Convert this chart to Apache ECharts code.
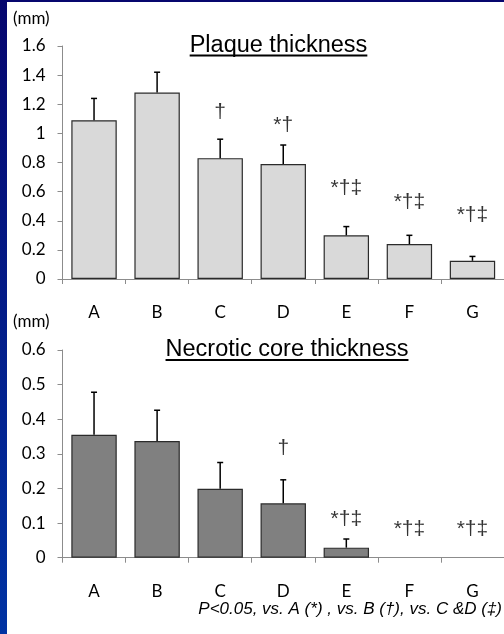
<!DOCTYPE html>
<html>
<head>
<meta charset="utf-8">
<script src="https://cdn.jsdelivr.net/npm/echarts/dist/echarts.min.js"></script>
<style>
html,body{margin:0;padding:0;background:#fff;}
#main{width:504px;height:634px;}
</style>
</head>
<body>
<div id="main"></div>
<script>
// ---- data ----
const categories = ['A', 'B', 'C', 'D', 'E', 'F', 'G'];
const plaqueMean = [1.09, 1.28, 0.83, 0.79, 0.30, 0.24, 0.125];
const plaqueErr = [0.15, 0.14, 0.13, 0.13, 0.06, 0.06, 0.03];
const plaqueMarks = ['', '', '†', '*†', '*†‡', '*†‡', '*†‡'];
const plaqueMarkY = [null, null, 1.147, 1.058, 0.625, 0.529, 0.44];
const necroticMean = [0.355, 0.337, 0.199, 0.157, 0.029, 0, 0];
const necroticErr = [0.123, 0.089, 0.076, 0.068, 0.025, 0, 0];
const necroticMarks = ['', '', '', '†', '*†‡', '*†‡', '*†‡'];
const necroticMarkY = [null, null, null, 0.317, 0.112, 0.083, 0.083];
const plaqueTicks = {min: 0, max: 1.6, interval: 0.2};
const necroticTicks = {min: 0, max: 0.6, interval: 0.1};
const plaqueTitle = 'Plaque thickness';
const necroticTitle = 'Necrotic core thickness';
const unitLabel = '(mm)';
const footnote = 'P<0.05, vs. A (*) , vs. B (†), vs. C &D (‡)';

// ---- helpers ----
const chart = echarts.init(document.getElementById('main'), null, {renderer: 'canvas'});
const mctx = document.createElement('canvas').getContext('2d');
function textWidth(t, font) { mctx.font = font; return mctx.measureText(t).width; }

const titleFont = '23.5px "Liberation Sans", Arial, sans-serif';
const axisGray = '#8c8c8c';

function errRender(params, api) {
  const x = api.value(0), m = api.value(1), e = api.value(2);
  if (!e) return null;
  const p0 = api.coord([x, m]);
  const p1 = api.coord([x, m + e]);
  const style = {stroke: '#000', lineWidth: 1.5};
  return {
    type: 'group',
    children: [
      {type: 'line', shape: {x1: p0[0], y1: p0[1], x2: p1[0], y2: p1[1]}, style: style},
      {type: 'line', shape: {x1: p1[0] - 3, y1: p1[1], x2: p1[0] + 3, y2: p1[1]}, style: style}
    ]
  };
}

function xAxisCfg(gi) {
  return {
    type: 'category', gridIndex: gi, data: categories, boundaryGap: true,
    axisLine: {show: true, lineStyle: {color: axisGray, width: 1}},
    axisTick: {show: true, length: 5, alignWithLabel: false, lineStyle: {color: axisGray}},
    axisLabel: {margin: 25, fontSize: 17, fontFamily: 'Lato, sans-serif', color: '#000'},
    splitLine: {show: false}
  };
}
function yAxisCfg(gi, t) {
  return {
    type: 'value', gridIndex: gi, min: t.min, max: t.max, interval: t.interval,
    axisLine: {show: true, lineStyle: {color: axisGray, width: 1}},
    axisTick: {show: true, length: 5, lineStyle: {color: axisGray}},
    axisLabel: {margin: 17, fontSize: 17, fontFamily: 'Lato, sans-serif', color: '#000',
      formatter: v => String(Math.round(v * 10) / 10)},
    splitLine: {show: false}
  };
}
function marksSeries(gi, marks, ys) {
  return {
    type: 'scatter', xAxisIndex: gi, yAxisIndex: gi,
    symbolSize: 1, itemStyle: {color: 'rgba(0,0,0,0)'},
    silent: true,
    data: categories.map((c, i) => ys[i] == null ? [i, '-'] : [i, ys[i]]),
    label: {
      show: true, position: 'inside',
      formatter: p => marks[p.dataIndex],
      fontSize: 21, fontFamily: '"Liberation Sans", Arial, sans-serif', color: '#000'
    }
  };
}
function barData(vals) {
  return vals.map(v => v === 0 ? {value: v, itemStyle: {borderWidth: 0}} : v);
}

function titleGraphic(text, cx, cy, underY) {
  const w = textWidth(text, titleFont);
  return [
    {type: 'text', style: {text: text, x: cx, y: cy, font: titleFont, fill: '#000',
      textAlign: 'center', textVerticalAlign: 'middle'}},
    {type: 'rect', shape: {x: cx - w / 2, y: underY, width: w, height: 2}, style: {fill: '#000'}}
  ];
}

const option = {
  backgroundColor: '#fff',
  animation: false,
  grid: [
    {left: 62.5, right: -2, top: 46, bottom: 355, containLabel: false},
    {left: 62.5, right: -2, top: 350, bottom: 76.3, containLabel: false}
  ],
  xAxis: [xAxisCfg(0), xAxisCfg(1)],
  yAxis: [yAxisCfg(0, plaqueTicks), yAxisCfg(1, necroticTicks)],
  series: [
    {type: 'bar', xAxisIndex: 0, yAxisIndex: 0, data: barData(plaqueMean), barWidth: '72%',
      itemStyle: {color: '#d9d9d9', borderColor: '#2b2b2b', borderWidth: 1.2}},
    {type: 'custom', xAxisIndex: 0, yAxisIndex: 0, renderItem: errRender, z: 5,
      data: categories.map((c, i) => [i, plaqueMean[i], plaqueErr[i]])},
    marksSeries(0, plaqueMarks, plaqueMarkY),
    {type: 'bar', xAxisIndex: 1, yAxisIndex: 1, data: barData(necroticMean), barWidth: '72%',
      itemStyle: {color: '#808080', borderColor: '#2b2b2b', borderWidth: 1.2}},
    {type: 'custom', xAxisIndex: 1, yAxisIndex: 1, renderItem: errRender, z: 5,
      data: categories.map((c, i) => [i, necroticMean[i], necroticErr[i]])},
    marksSeries(1, necroticMarks, necroticMarkY)
  ],
  graphic: [
    {type: 'rect', shape: {x: 0, y: 0, width: 7, height: 634},
      style: {fill: new echarts.graphic.LinearGradient(0, 0, 0, 1, [
        {offset: 0, color: '#06066e'}, {offset: 1, color: '#0033a3'}])}},
    {type: 'rect', shape: {x: 0, y: 0, width: 504, height: 2}, style: {fill: '#06066e'}},
    {type: 'text', style: {text: unitLabel, x: 13, y: 19, font: '17px Lato, sans-serif', fill: '#000',
      textAlign: 'left', textVerticalAlign: 'middle'}},
    {type: 'text', style: {text: unitLabel, x: 13, y: 322, font: '17px Lato, sans-serif', fill: '#000',
      textAlign: 'left', textVerticalAlign: 'middle'}},
    ...titleGraphic(plaqueTitle, 278.5, 45.3, 54.5),
    ...titleGraphic(necroticTitle, 287, 349.2, 359),
    {type: 'text', style: {text: footnote, x: 502, y: 609,
      font: 'italic 17px "Liberation Sans", Arial, sans-serif', fill: '#000',
      textAlign: 'right', textVerticalAlign: 'middle'}}
  ]
};
chart.setOption(option);
</script>
</body>
</html>
